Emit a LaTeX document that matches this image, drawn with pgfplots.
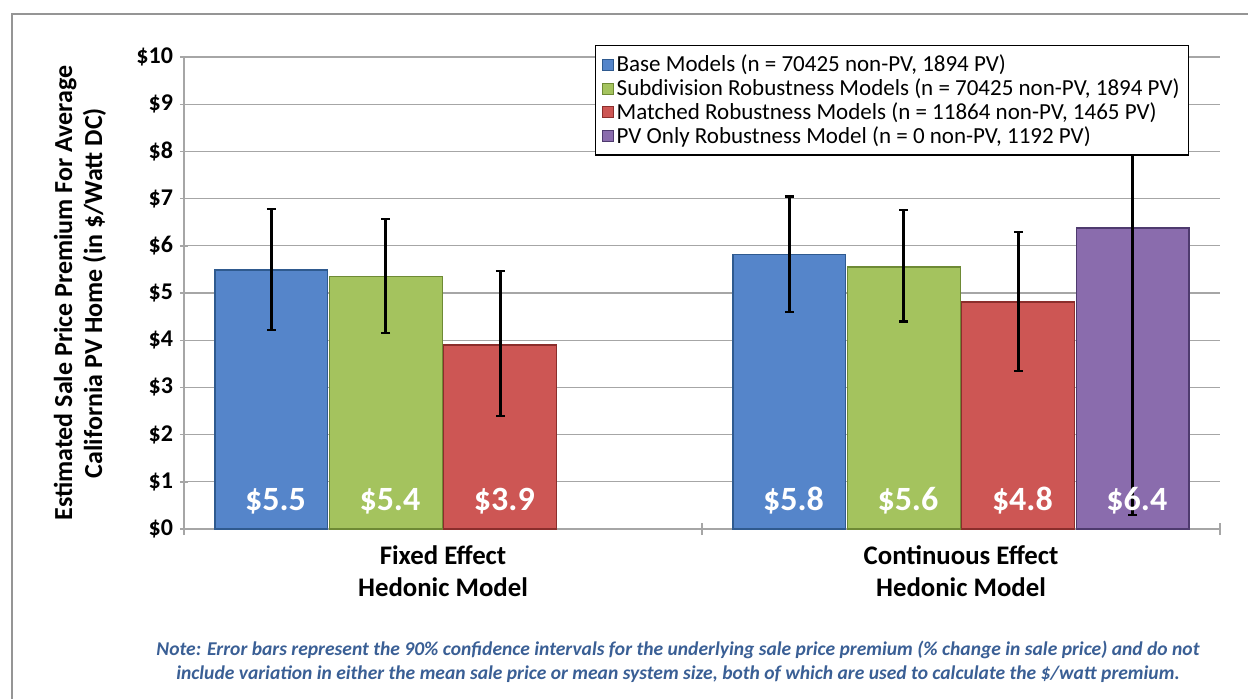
\documentclass[border=0pt]{standalone}
\usepackage{pgfplots}
\usepackage{pgfplotstable}
\pgfplotsset{compat=1.18}
\usepackage{fontspec}
\setmainfont{Carlito}
\definecolor{cbase}{HTML}{5585CA}
\definecolor{csub}{HTML}{A4C35E}
\definecolor{cmat}{HTML}{CD5654}
\definecolor{cpv}{HTML}{8A6CAD}
\definecolor{dbase}{HTML}{2F5A8F}
\definecolor{dsub}{HTML}{6E8A35}
\definecolor{dmat}{HTML}{8B2E2C}
\definecolor{dpv}{HTML}{4E3A6E}
\definecolor{gridc}{HTML}{A6A6A6}
\definecolor{notec}{HTML}{3A5F95}

% x = category position (0 = Fixed Effect, 1 = Continuous Effect) plus the bar's offset
\pgfplotstableread{
x y ep em
-0.3315 5.49 1.29 1.27
0.6685 5.81 1.24 1.21
}\base
\pgfplotstableread{
x y ep em
-0.1105 5.35 1.22 1.20
0.8895 5.55 1.21 1.16
}\subd
\pgfplotstableread{
x y ep em
0.1105 3.90 1.57 1.51
1.1105 4.81 1.48 1.46
}\matc
\pgfplotstableread{
x y ep em
1.3315 6.38 6.08 6.08
}\pvonly
\pgfplotstableread{
x y lab
-0.3235 0.40 {\$5.5}
-0.1025 0.40 {\$5.4}
0.1185 0.40 {\$3.9}
0.6765 0.40 {\$5.8}
0.8975 0.40 {\$5.6}
1.1185 0.40 {\$4.8}
1.3395 0.40 {\$6.4}
}\labels

\begin{document}
\begin{tikzpicture}
\useasboundingbox (0,0) rectangle (624pt,349pt);
\draw[gridc!90!black, line width=0.8pt] (6pt,-20pt) rectangle (660pt,342pt);
\begin{axis}[
  at={(92pt,84.5pt)}, anchor=south west,
  scale only axis, width=518pt, height=236pt,
  xmin=-0.5, xmax=1.5, ymin=0, ymax=10,
  axis x line=bottom, axis y line=left,
  axis line style={gridc, line width=0.7pt, -},
  xtick={0,1},
  xticklabels={{Fixed Effect\\Hedonic Model},{Continuous Effect\\Hedonic Model}},
  xticklabel style={align=center, yshift=-3pt, font=\bfseries\fontsize{13.4}{16}\selectfont},
  major x tick style={draw=none},
  minor xtick={-0.5,0.5,1.5},
  minor x tick style={gridc, line width=0.7pt},
  minor tick length=6pt,
  ytick={0,1,...,10},
  yticklabels={\$0,\$1,\$2,\$3,\$4,\$5,\$6,\$7,\$8,\$9,\$10},
  yticklabel style={font=\bfseries\fontsize{12}{12}\selectfont},
  major y tick style={gridc, line width=0.7pt},
  tick align=center, major tick length=4pt,
  ymajorgrids, grid style={gridc, line width=0.6pt},
  ylabel={Estimated Sale Price Premium For Average\\California PV Home (in \$/Watt DC)},
  ylabel style={align=center, font=\bfseries\fontsize{13}{15}\selectfont, at={(axis description cs:-0.1004,0.5)}, anchor=center},
  legend style={at={(0.397,1.025)}, anchor=north west, draw=black, line width=0.6pt, fill=white,
    font=\fontsize{11.5}{12}\selectfont, row sep=0pt, inner xsep=3pt, inner ysep=3.5pt,
    nodes={inner ysep=1.0pt, inner xsep=1.5pt}},
  legend cell align=left,
  legend image code/.code={\draw[#1, line width=0.4pt] (0pt,-2.75pt) rectangle (5.5pt,2.75pt);},
  error bars/error bar style={black, line width=1.3pt},
  error bars/error mark options={black, rotate=90, mark size=2.2pt, line width=1.3pt},
]
\addplot[ybar, bar width=0.218, bar shift=0, fill=cbase, draw=dbase, line width=0.7pt,
  error bars/.cd, y dir=both, y explicit]
  table[x=x, y=y, y error plus=ep, y error minus=em]{\base};
\addlegendentry{Base Models (n = 70425 non-PV, 1894 PV)}
\addplot[ybar, bar width=0.218, bar shift=0, fill=csub, draw=dsub, line width=0.7pt,
  error bars/.cd, y dir=both, y explicit]
  table[x=x, y=y, y error plus=ep, y error minus=em]{\subd};
\addlegendentry{Subdivision Robustness Models (n = 70425 non-PV, 1894 PV)\hspace{6pt}}
\addplot[ybar, bar width=0.218, bar shift=0, fill=cmat, draw=dmat, line width=0.7pt,
  error bars/.cd, y dir=both, y explicit]
  table[x=x, y=y, y error plus=ep, y error minus=em]{\matc};
\addlegendentry{Matched Robustness Models (n = 11864 non-PV, 1465 PV)}
\addplot[ybar, bar width=0.218, bar shift=0, fill=cpv, draw=dpv, line width=0.7pt,
  error bars/.cd, y dir=both, y explicit]
  table[x=x, y=y, y error plus=ep, y error minus=em]{\pvonly};
\addlegendentry{PV Only Robustness Model (n = 0 non-PV, 1192 PV)}
\addplot[only marks, mark=none, forget plot, nodes near coords, point meta=explicit symbolic,
  every node near coord/.append style={anchor=base, text=white, inner sep=0pt, font=\bfseries\fontsize{17}{17}\selectfont}]
  table[x=x, y=y, meta=lab]{\labels};
\end{axis}
\node[align=center, text=notec, font=\bfseries\itshape\fontsize{9.77}{12}\selectfont] at (339pt,18pt)
 {Note: Error bars represent the 90\% confidence intervals for the underlying sale price premium (\% change in sale price) and do not\\
  include variation in either the mean sale price or mean system size, both of which are used to calculate the \$/watt premium.};
\end{tikzpicture}
\end{document}
